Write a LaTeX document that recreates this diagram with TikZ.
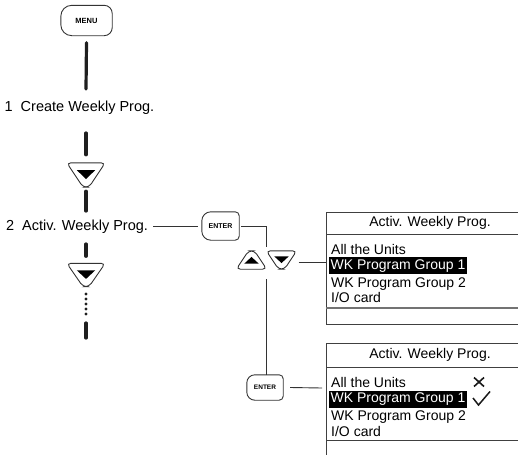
\documentclass[tikz,border=0pt]{standalone}
\usepackage{fontspec}
\setmainfont{Liberation Sans}
\newcommand\mkDownBtn[5]{%
  \node[minimum width=#4pt, minimum height=#5pt, inner sep=0pt] (#1) at (#2,#3) {};
  \draw[btnln, rounded corners=4pt] (#1.north west) -- (#1.north east) -- ([xshift=3pt]#1.south) -- ([xshift=-3pt]#1.south) -- cycle;
  \fill[black] ([xshift=-0.24*#4 pt, yshift=0.2*#5 pt]#1.center) -- ([xshift=0.24*#4 pt, yshift=0.2*#5 pt]#1.center) -- ([yshift=-0.17*#5 pt]#1.center) -- cycle;
}
\newcommand\mkUpBtn[5]{%
  \node[minimum width=#4pt, minimum height=#5pt, inner sep=0pt] (#1) at (#2,#3) {};
  \draw[btnln, rounded corners=4pt] (#1.south west) -- (#1.south east) -- ([xshift=3pt]#1.north) -- ([xshift=-3pt]#1.north) -- cycle;
  \fill[black] ([xshift=-0.24*#4 pt, yshift=-0.2*#5 pt]#1.center) -- ([xshift=0.24*#4 pt, yshift=-0.2*#5 pt]#1.center) -- ([yshift=0.17*#5 pt]#1.center) -- cycle;
}
\begin{document}
\begin{tikzpicture}[x=1pt,y=-1pt,
  thickln/.style={line width=3.2pt, color=black!88, line cap=round},
  thinln/.style={line width=0.9pt, color=black!80},
  btnln/.style={line width=0.9pt, draw=black!80},
  lbl/.style={font=\fontsize{14.5}{16}\selectfont, inner sep=0pt, anchor=base west},
  ptxt/.style={font=\fontsize{14}{16}\selectfont, inner sep=0pt, anchor=base west},
  htxt/.style={font=\fontsize{14}{16}\selectfont, inner sep=0pt},
  keytxt/.style={font=\fontsize{7}{8}\selectfont\bfseries, inner sep=0pt},
  panelln/.style={line width=0.9pt, color=black!75},
  hl/.style={fill=black, text=white, font=\fontsize{14}{16}\selectfont, inner xsep=1.5pt, inner ysep=0pt, minimum height=17pt, anchor=west, text height=10.5pt, text depth=3pt},
  tickmk/.style={line width=1.6pt, color=black!90}
]
\useasboundingbox (0,0) rectangle (518,455);

% ---------- keys ----------
\node[keytxt, minimum width=51pt, minimum height=30pt, font=\fontsize{7.5}{8}\selectfont\bfseries] (menu) at (86.5,20.5) {MENU};
\draw[btnln] (menu.north) [rounded corners=8pt] -- (menu.north east) -- (menu.south east) [rounded corners=11pt] -- (menu.south west) -- (menu.north west) -- cycle;

\node[keytxt, minimum width=37pt, minimum height=28pt] (enter1) at (220.5,226) {ENTER};
\draw[btnln] (enter1.north) [rounded corners=4pt] -- (enter1.north east) -- (enter1.south east) [rounded corners=9pt] -- (enter1.south west) -- (enter1.north west) -- cycle;

\node[keytxt, minimum width=36pt, minimum height=25pt, font=\fontsize{6.5}{8}\selectfont\bfseries] (enter2) at (265,387.5) {ENTER};
\draw[btnln] (enter2.north) [rounded corners=4pt] -- (enter2.north east) -- (enter2.south east) [rounded corners=8pt] -- (enter2.south west) -- (enter2.north west) -- cycle;

\mkDownBtn{down1}{86}{175}{38}{24}
\mkDownBtn{down2}{86}{275}{38}{23}
\mkUpBtn{up3}{251.5}{260}{30}{18}
\mkDownBtn{down3}{281.5}{260}{30}{18}

% ---------- main column labels ----------
\node[lbl] (t1) at (4.5,111.5) {1\hspace{0.55em}Create Weekly Prog.};
\node[lbl] (t2) at (6,230.5) {2\hspace{0.55em}Activ. Weekly Prog.};

% ---------- main column line ----------
\coordinate (a2) at (86,89);
\coordinate (b1) at (86,133);
\coordinate (c2) at (86,211);
\coordinate (e1) at (86,244);
\coordinate (f1) at (86,323);
\coordinate (f2) at (86,338);
\draw[thickln] ([yshift=-7pt]menu.south) -- (a2);
\draw[thickln] (b1) -- ([yshift=8pt]down1.north);
\draw[thickln] ([yshift=-4pt]down1.south) -- (c2);
\draw[thickln] (e1) -- ([yshift=7pt]down2.north);
\foreach \k in {0,...,4} \fill[black!88] (86,294+5*\k) circle (1.7pt);
\draw[thickln] (f1) -- (f2);

% ---------- thin connectors ----------
\coordinate (vtop) at (266,247);
\coordinate (vbot) at (266,279);
\coordinate (p1) at (326,262);
\coordinate (p2) at (326,388);
\draw[thinln, shorten <=5pt, shorten >=4pt] (t2.east |- enter1.west) -- (enter1.west);
\draw[thinln] ([xshift=2pt]enter1.east) -| (vtop);
\draw[thinln] (vbot) -- (vbot |- enter2.north);
\draw[thinln] ([xshift=2pt]down3.east |- p1) -- (p1);
\draw[thinln] ([xshift=7pt]enter2.east) -- ([xshift=-4pt]p2);

% ---------- panel 1 ----------
\draw[panelln] (518,212) -- (326,212) -- (326,324) -- (518,324);
\draw[panelln] (326,234) -- (518,234);
\draw[line width=1.6pt, color=black!55] (326,308) -- (518,308);
\node[htxt] (h1) at (430,222.5) {Activ. Weekly Prog.};
\node[ptxt] (i11) at (331,254) {All the Units};
\node[hl] (i12) at (329,265.5) {WK Program Group 1};
\node[ptxt] (i13) at (331,287) {WK Program Group 2};
\node[ptxt] (i14) at (331,302) {I/O card};

% ---------- panel 2 ----------
\draw[panelln] (518,343) -- (326,343) -- (326,455);
\draw[panelln] (326,367) -- (518,367);
\draw[panelln] (326,440) -- (518,440);
\node[htxt] (h2) at (430,355) {Activ. Weekly Prog.};
\node[ptxt] (i21) at (331,387) {All the Units};
\node[hl] (i22) at (329,399) {WK Program Group 1};
\node[ptxt] (i23) at (331,420) {WK Program Group 2};
\node[ptxt] (i24) at (331,436) {I/O card};
\draw[tickmk] (474,377.5) -- (484,386.5) (474,386.5) -- (484,377.5);
\draw[tickmk, line width=1.5pt] (473,398) -- (478.5,405) -- (490,391.5);
\end{tikzpicture}
\end{document}
